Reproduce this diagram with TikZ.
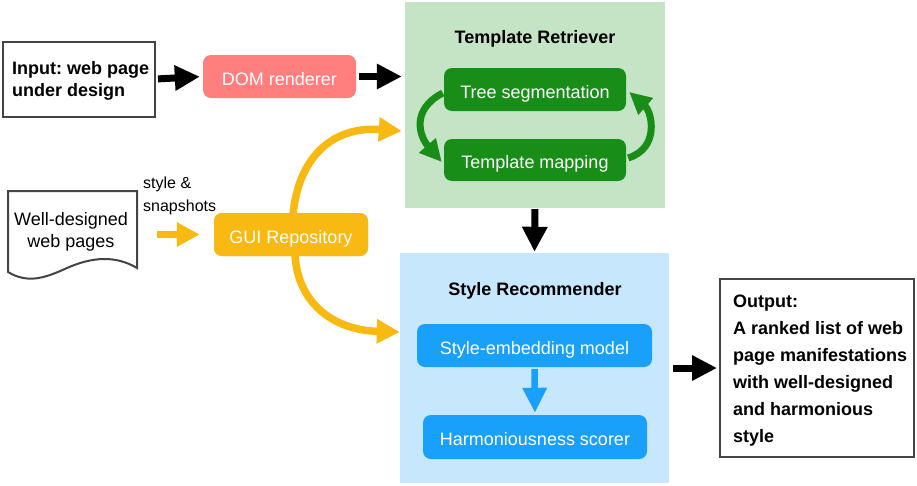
\documentclass[tikz,border=0pt]{standalone}
\usepackage{fontspec}
\setmainfont{Liberation Sans}
\usetikzlibrary{arrows.meta}
\definecolor{salmon}{HTML}{FF7F7F}
\definecolor{greenbg}{HTML}{C5E4C5}
\definecolor{greenbox}{HTML}{188E18}
\definecolor{bluebg}{HTML}{C6E7FC}
\definecolor{bluebox}{HTML}{18A0FB}
\definecolor{orangec}{HTML}{F8B912}
\definecolor{bordc}{HTML}{444444}
\frenchspacing
\begin{document}
\begin{tikzpicture}[x=1pt,y=-1pt,font=\fontsize{18}{22}\selectfont,
  box/.style={rectangle,rounded corners=8pt,inner sep=0pt,text=white,minimum height=43pt,text height=17pt,text depth=0pt},
  panel/.style={rectangle,inner sep=0pt},
  plainbox/.style={rectangle,draw=bordc,line width=2pt,inner sep=0pt},
  boldtext/.style={inner sep=0pt,align=left,font=\fontsize{18}{22}\selectfont\bfseries},
  title/.style={font=\fontsize{18}{22}\selectfont\bfseries,inner sep=0pt,anchor=base},
  blackarrow/.style={line width=7pt,-{Triangle[length=25pt,width=24pt]}},
  orangearrow/.style={draw=orangec,line width=7.5pt,-{Triangle[length=23pt,width=23pt]}},
  greenarrow/.style={draw=greenbox,line width=7pt,-{Triangle[length=22pt,width=21pt]}},
  bluearrow/.style={draw=bluebox,line width=6.5pt,-{Triangle[length=25pt,width=23pt]}}]
\useasboundingbox (0,0) rectangle (917,485);

% panels
\node[panel,fill=greenbg,minimum width=260pt,minimum height=206pt] (tr) at (535,105) {};
\node[title] (trt) at (535,43) {Template Retriever};
\node[panel,fill=bluebg,minimum width=269pt,minimum height=230pt] (sr) at (534.5,368) {};
\node[title] (srt) at (535,295) {Style Recommender};

% input
\node[plainbox,minimum width=152pt,minimum height=75pt] (inp) at (79,79) {};
\node[boldtext,anchor=west] (inpt) at (12,81) {Input: web page\\under design};
\node[box,fill=salmon,minimum width=153pt] (dom) at (279.5,76.5) {DOM renderer};

% template retriever boxes
\node[box,fill=greenbox,minimum width=182pt] (ts) at (535,89.5) {Tree segmentation};
\node[box,fill=greenbox,minimum width=182pt,minimum height=42pt] (tm) at (535,160) {Template mapping};

% style recommender boxes
\node[box,fill=bluebox,minimum width=235pt] (se) at (534.5,345.5) {Style-embedding model};
\node[box,fill=bluebox,minimum width=224pt,minimum height=44pt] (hs) at (535,437) {Harmoniousness scorer};

% output
\node[plainbox,minimum width=194pt,minimum height=178pt] (out) at (817,368) {};
\node[boldtext,anchor=north west,font=\fontsize{18}{27}\selectfont\bfseries] (outt) at (733,294.5)
  {Output:\\A ranked list of web\\page manifestations\\with well-designed\\and harmonious\\style};

% well-designed web pages document
\draw[draw=bordc,line width=2pt,fill=white] (8,191) -- (137,191) -- (137,268)
  .. controls (115,255) and (92,257) .. (67,268)
  .. controls (45,278) and (28,284) .. (8,272) -- cycle;
\node[inner sep=0pt,align=center] (doc) at (71,232) {Well-designed\\web pages};
\coordinate (docE) at (137,234.5);
\node[inner sep=0pt,align=left,anchor=west,font=\fontsize{16}{23}\selectfont] (lbl) at (143,195.5) {style \&\\snapshots};

% GUI repository
\node[box,fill=orangec,minimum width=154pt] (gui) at (291,234.5) {GUI Repository};

% orange curves
\draw[orangearrow] ([xshift=2pt,yshift=-2pt]gui.north) .. controls (298,160) and (330,126) .. ([xshift=-3pt,yshift=-26pt]tr.west);
\draw[orangearrow] ([xshift=4pt,yshift=2pt]gui.south) .. controls (297,300) and (330,330) .. ([yshift=36pt]sr.west);
\node[box,fill=orangec,minimum width=154pt] at (gui) {GUI Repository};
\draw[orangearrow,shorten <=20pt,shorten >=14pt] (docE) -- (gui.west);

% black arrows
\draw[blackarrow,shorten <=2pt,shorten >=3pt] (inp.east) -- (dom.west);
\draw[blackarrow,shorten <=3pt,shorten >=3pt] (dom.east) -- (tr.west |- dom.east);
\draw[blackarrow,shorten <=1pt,shorten >=1pt] (tr.south) -- (sr.north);
\draw[blackarrow,shorten <=4pt,shorten >=2pt] (sr.east) -- (out.west);

% green loop arrows
\draw[greenarrow] ([xshift=-1pt,yshift=-3.5pt]ts.west) .. controls (410,110) and (420,137) .. ([xshift=-2pt,yshift=-2pt]tm.west);
\draw[greenarrow] ([xshift=2pt,yshift=2pt]tm.east) .. controls (660,148) and (652,112) .. ([xshift=3pt,yshift=-2.5pt]ts.east);

% blue arrow
\draw[bluearrow,shorten <=2pt,shorten >=2pt] (se.south) -- (hs.north);
\end{tikzpicture}
\end{document}
